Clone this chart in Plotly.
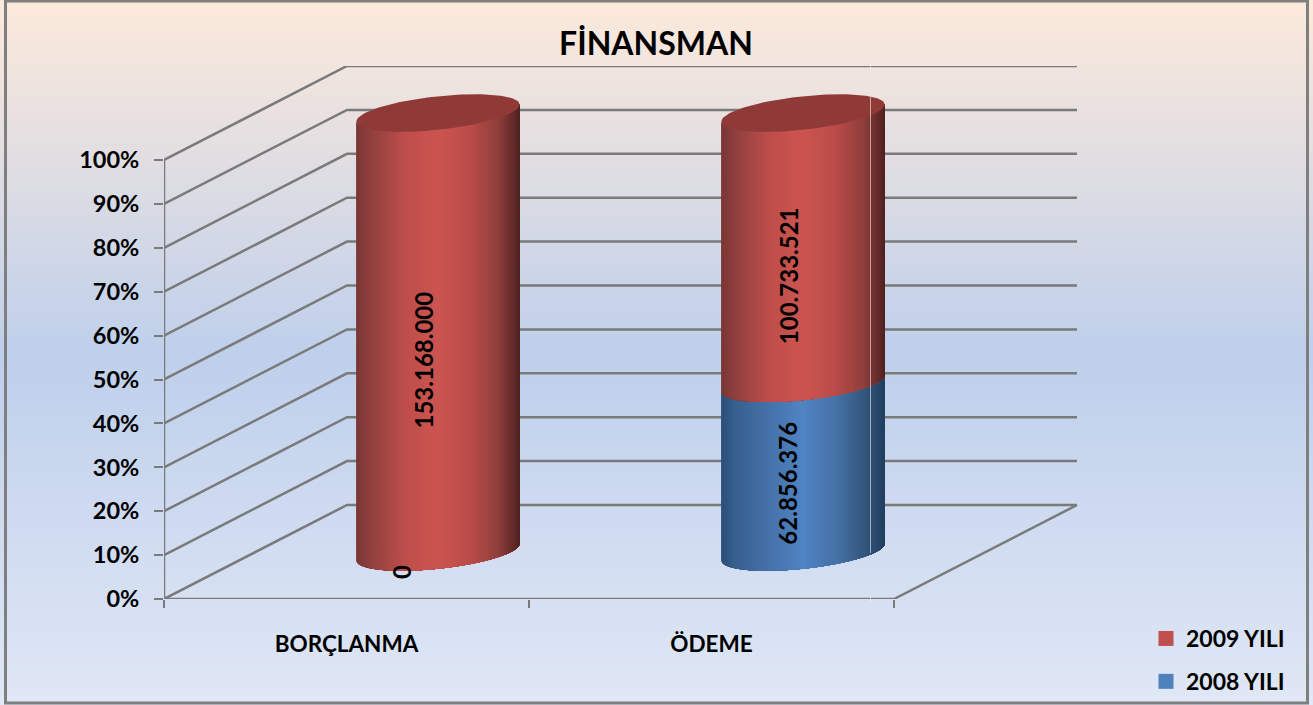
import numpy as np
import plotly.graph_objects as go

# ---- data ----
categories = ["BORÇLANMA", "ÖDEME"]
series_names = ["2008 YILI", "2009 YILI"]
values_2008 = [0, 62856376]
values_2009 = [153168000, 100733521]
y_ticks = [0, 10, 20, 30, 40, 50, 60, 70, 80, 90, 100]
y_tick_labels = ["0%", "10%", "20%", "30%", "40%", "50%", "60%", "70%", "80%", "90%", "100%"]
title_text = "FİNANSMAN"

# ---- style ----
W, H = 1313, 705
FONT = "Lato"
GRID = "#7a7a7a"
X0, X1, Y0, Y1 = 164, 1078, 599, 66   # plot box, px
CAT_PX, PCT_PX = 365.0, 4.39
DEPTH_X, DEPTH_Y = 183 / CAT_PX, 94 / PCT_PX
R = 0.2
RED_STOPS = [(0, "#7a3735"), (.08, "#8f403e"), (.3, "#bf4e4b"), (.5, "#cd5551"), (.7, "#ba4c49"), (.87, "#8f3f3c"), (1, "#502221")]
BLUE_STOPS = [(0, "#2d4f78"), (.08, "#38608f"), (.3, "#4673ab"), (.5, "#5084c3"), (.7, "#4673a8"), (.87, "#34587f"), (1, "#233f60")]
RED_TOP = "#8f3a37"


def hex2rgb(h):
    return np.array([int(h[i:i + 2], 16) for i in (1, 3, 5)], float)


def ramp(stops, u):
    xs = [s[0] for s in stops]
    cs = np.array([hex2rgb(s[1]) for s in stops])
    return "rgb(%d,%d,%d)" % tuple(np.interp(u, xs, cs[:, k]) for k in range(3))


fig = go.Figure()

# background gradient, painted in overlapping bands
shapes = []
bg_stops = [(0, "#fdeadb"), (.5, "#bfd0ec"), (1, "#e1e8f6")]
for py in range(0, H, 3):
    shapes.append(dict(type="rect", xref="paper", yref="paper", x0=0, x1=1, y0=0, y1=1 - py / H,
                       fillcolor=ramp(bg_stops, py / H), line_width=0, layer="below"))
# frame
shapes.append(dict(type="rect", xref="paper", yref="paper", x0=5.5 / W, x1=1307.5 / W, y0=1 - 703 / H, y1=1 - 1 / H,
                   line=dict(color="#7f7f7f", width=3), fillcolor="rgba(0,0,0,0)", layer="above"))
# faint seam line: only shows where it crosses dark marks
for a, b in [(64, 69), (97, 553), (597, 602)]:
    shapes.append(dict(type="line", xref="paper", yref="paper", x0=870.5 / W, x1=870.5 / W, y0=1 - b / H, y1=1 - a / H,
                       line=dict(color="rgba(255,255,255,0.55)", width=1), layer="above"))

# walls, floor and axis lines
gx, gy = [], []
for v in y_ticks:
    gx += [0, DEPTH_X, DEPTH_X + 2, None]
    gy += [v, v + DEPTH_Y, v + DEPTH_Y, None]
gx += [2, 2 + DEPTH_X, None, 0, 0, None, 0, 2]
gy += [0, DEPTH_Y, None, 0, 100, None, 0, 0]
fig.add_trace(go.Scatter(x=gx, y=gy, mode="lines", line=dict(color=GRID, width=2.5), hoverinfo="skip", showlegend=False))


def cylinder(ci, v0, v1, stops):
    cx = ci + 0.5 + DEPTH_X / 2
    dy_c = DEPTH_Y / 2
    Dx, Dy = R * DEPTH_X, R * DEPTH_Y
    tr = np.arctan2(Dx, R)
    n = 70
    for i in range(n):
        u0, u1 = i / n, 1.0
        th = np.linspace(np.pi * u0, np.pi * u1, 60)
        t = tr + np.pi + th
        xs = cx + R * np.cos(t) + Dx * np.sin(t)
        ys = Dy * np.sin(t) + dy_c
        px = np.concatenate([xs, xs[::-1], xs[:1]])
        py = np.concatenate([ys + v0, (ys + v1)[::-1], ys[:1] + v0])
        u = (1 - np.cos(np.pi * (i + .5) / n)) / 2
        fig.add_trace(go.Scatter(x=px, y=py, mode="lines", line_width=0, fill="toself",
                                 fillcolor=ramp(stops, u), hoverinfo="skip", showlegend=False))


def cap(ci, v, color):
    cx = ci + 0.5 + DEPTH_X / 2
    Dx, Dy = R * DEPTH_X, R * DEPTH_Y
    t = np.linspace(0, 2 * np.pi, 120)
    fig.add_trace(go.Scatter(x=cx + R * np.cos(t) + Dx * np.sin(t), y=v + DEPTH_Y / 2 + Dy * np.sin(t),
                             mode="lines", line_width=0, fill="toself", fillcolor=color,
                             hoverinfo="skip", showlegend=False))


annots = []
label_shift = {(0, 0): (-37, -20), (0, 1): (-15, -28), (1, 0): (-15, -16), (1, 1): (-15, -28)}
for ci in range(len(categories)):
    total = values_2008[ci] + values_2009[ci]
    a = 100 * values_2008[ci] / total
    if a > 0:
        cylinder(ci, 0, a, BLUE_STOPS)
    cylinder(ci, a, 100, RED_STOPS)
    cap(ci, 100, RED_TOP)
    segs = [(values_2008[ci], 0, a), (values_2009[ci], a, 100)]
    for si, (val, lo, hi) in enumerate(segs):
        sx, sy = label_shift[(ci, si)]
        annots.append(dict(x=ci + 0.5 + DEPTH_X / 2, y=(lo + hi) / 2 + DEPTH_Y / 2, xref="x", yref="y",
                           text=f"<b>{val:,}</b>".replace(",", "."), textangle=-90, showarrow=False,
                           xshift=sx, yshift=sy, font=dict(family=FONT, size=24, color="black")))

# legend entries
for name, col, grp in [("2009 YILI", "#c0504d", "a"), ("2008 YILI", "#4f81bd", "b")]:
    fig.add_trace(go.Scatter(x=[None], y=[None], mode="markers", name=f"<b>{name}</b>", legendgroup=grp,
                             marker=dict(symbol="square", size=15, color=col)))

fig.update_layout(
    width=W, height=H, margin=dict(l=0, r=0, t=0, b=0, autoexpand=False),
    paper_bgcolor="white", plot_bgcolor="rgba(0,0,0,0)",
    shapes=shapes, annotations=annots,
    title=dict(text=f"<b>{title_text}</b>", x=656 / W, xanchor="center", y=1 - 44 / H, yanchor="middle",
               font=dict(family=FONT, size=32, color="black")),
    font=dict(family=FONT, color="black"),
    xaxis=dict(domain=[X0 / W, X1 / W], range=[0, (X1 - X0) / CAT_PX], tickmode="array",
               tickvals=[0.5, 1.5], ticktext=[f"<b>{c}</b>" for c in categories], ticks="", showgrid=False,
               zeroline=False, showline=False, ticklabelstandoff=29, tickfont=dict(family=FONT, size=22.5),
               minor=dict(tickmode="array", tickvals=[0, 1, 2], ticks="outside", ticklen=8, tickwidth=2, tickcolor=GRID, showgrid=False)),
    yaxis=dict(domain=[1 - Y0 / H, 1 - Y1 / H], range=[0, (Y0 - Y1) / PCT_PX], tickmode="array",
               tickvals=y_ticks, ticktext=[f"<b>{t}</b>" for t in y_tick_labels], ticks="outside", ticklen=9, tickwidth=2,
               tickcolor=GRID, showgrid=False, zeroline=False, showline=False, ticklabelstandoff=10,
               tickfont=dict(family=FONT, size=23.5)),
    legend=dict(x=1146 / W, y=1 - 617 / H, xanchor="left", yanchor="top", bgcolor="rgba(0,0,0,0)",
                tracegroupgap=10, itemsizing="trace", itemwidth=30, font=dict(family=FONT, size=23), traceorder="grouped"),
)

fig.write_html("out.html", config={"displayModeBar": False},
               post_script="document.body.style.margin='0';document.body.style.overflow='hidden';")
